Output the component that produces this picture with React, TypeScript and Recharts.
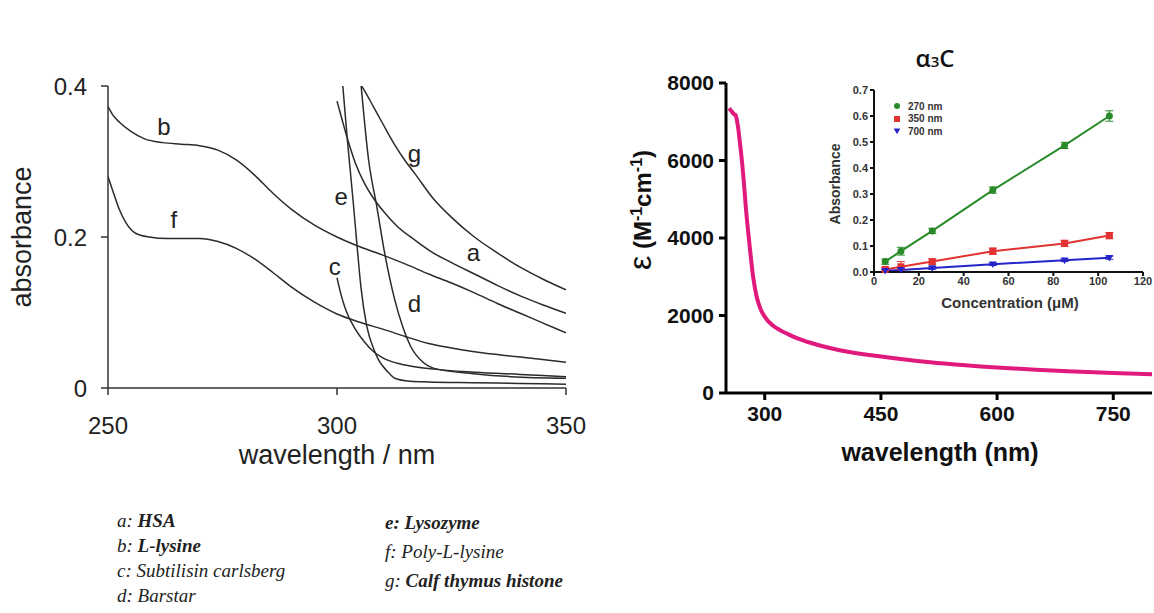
import { LineChart, Line, XAxis, YAxis, ReferenceDot, ErrorBar } from 'recharts'

// ---- left panel: absorbance spectra (nm, absorbance) ----
const hsa: [number, number][] = [
  [300, 0.38], [301, 0.358], [302, 0.336], [304, 0.298], [306, 0.271], [308, 0.251], [310, 0.235],
  [313, 0.215], [317, 0.196], [321, 0.179], [325, 0.166], [330, 0.151], [335, 0.136], [340, 0.122],
  [345, 0.11], [350, 0.099],
]
const lLysine: [number, number][] = [
  [250, 0.373], [251, 0.362], [252.5, 0.352], [255, 0.34], [258, 0.33], [262, 0.325], [266, 0.323],
  [270, 0.321], [274, 0.315], [278, 0.302], [282, 0.282], [286, 0.258], [290, 0.237], [295, 0.216],
  [300, 0.2], [305, 0.187], [310, 0.176], [315, 0.164], [320, 0.151], [325, 0.139], [330, 0.126],
  [335, 0.112], [340, 0.099], [345, 0.086], [350, 0.073],
]
const subtilisin: [number, number][] = [
  [300, 0.146], [301, 0.121], [302, 0.102], [304, 0.078], [306, 0.061], [308, 0.048], [310, 0.04],
  [313, 0.033], [317, 0.028], [321, 0.025], [330, 0.021], [340, 0.018], [350, 0.015],
]
const barstar: [number, number][] = [
  [305.2, 0.405], [306.9, 0.302], [308.7, 0.24], [310.4, 0.179], [312.6, 0.117], [314.3, 0.082],
  [316.1, 0.055], [318.6, 0.035], [321.2, 0.026], [329.8, 0.019], [338, 0.015], [350, 0.013],
]
const lysozyme: [number, number][] = [
  [301.2, 0.405], [302.2, 0.333], [303.5, 0.249], [304.4, 0.187], [305.2, 0.135], [306.5, 0.082],
  [308, 0.052], [309.1, 0.037], [311, 0.022], [312.6, 0.013], [316, 0.009], [320, 0.008],
  [330, 0.007], [340, 0.006], [350, 0.005],
]
const polyLysine: [number, number][] = [
  [250, 0.28], [251, 0.262], [252.5, 0.236], [254, 0.218], [256, 0.205], [259, 0.2], [263, 0.198],
  [270, 0.198], [274, 0.194], [278, 0.185], [282, 0.171], [286, 0.153], [290, 0.134], [295, 0.114],
  [300, 0.098], [305, 0.087], [310, 0.078], [315, 0.068], [320, 0.059], [325, 0.053], [330, 0.048],
  [340, 0.041], [350, 0.034],
]
const histone: [number, number][] = [
  [304.8, 0.405], [306, 0.394], [308, 0.372], [310, 0.35], [312.6, 0.322], [315, 0.3], [317, 0.284],
  [321, 0.251], [325, 0.226], [330, 0.2], [335, 0.179], [340, 0.16], [345, 0.144], [350, 0.13],
]

const spectra = [
  { id: 'a', points: hsa, label: [329.8, 0.179] },
  { id: 'b', points: lLysine, label: [262.2, 0.346] },
  { id: 'c', points: subtilisin, label: [299.5, 0.161] },
  { id: 'd', points: barstar, label: [316.9, 0.112] },
  { id: 'e', points: lysozyme, label: [300.9, 0.254] },
  { id: 'f', points: polyLysine, label: [264.4, 0.223] },
  { id: 'g', points: histone, label: [316.9, 0.311] },
]
const leftXTicks = [250, 300, 350]
const leftYTicks = [0, 0.2, 0.4]

// ---- right panel: molar absorptivity of a3C ----
const epsNm = [254, 256, 258, 260, 262, 264, 266, 268, 270, 273, 276, 280, 285, 290, 295, 300, 305, 310,
  320, 330, 340, 360, 380, 400, 450, 500, 550, 600, 650, 700, 750, 800]
const epsVal = [7350, 7300, 7250, 7200, 7180, 7050, 6800, 6450, 6100, 5450, 4700, 3900, 3000, 2450, 2150,
  1970, 1840, 1750, 1620, 1520, 1430, 1290, 1180, 1090, 940, 820, 730, 660, 600, 555, 515, 485]
const rightXTicks = [300, 450, 600, 750]
const rightYTicks = [0, 2000, 4000, 6000, 8000]

// ---- inset: absorbance vs concentration ----
const conc = [5, 12, 26, 53, 85, 105]
const abs270 = [0.04, 0.08, 0.158, 0.315, 0.487, 0.6]
const abs350 = [0.01, 0.02, 0.04, 0.08, 0.11, 0.14]
const abs700 = [0.005, 0.008, 0.015, 0.03, 0.045, 0.055]
const err270 = [0.01, 0.015, 0.01, 0.012, 0.012, 0.02]
const err350 = [0.008, 0.02, 0.01, 0.012, 0.012, 0.012]
const err700 = [0.004, 0.005, 0.005, 0.005, 0.005, 0.006]
const insetXTicks = [0, 20, 40, 60, 80, 100, 120]
const insetYTicks = [0, 0.1, 0.2, 0.3, 0.4, 0.5, 0.6, 0.7]

const insetData = conc.map((c, i) => ({
  c,
  a270: abs270[i], a350: abs350[i], a700: abs700[i],
  e270: err270[i], e350: err350[i], e700: err700[i],
}))
const epsData = epsNm.map((nm, i) => ({ nm, eps: epsVal[i] }))

const insetSeries = [
  { key: 'a270', err: 'e270', name: '270 nm', color: '#2a8a2a', shape: 'circle' },
  { key: 'a350', err: 'e350', name: '350 nm', color: '#e23232', shape: 'square' },
  { key: 'a700', err: 'e700', name: '700 nm', color: '#2424c8', shape: 'triangle' },
]

const sans = '"Liberation Sans", Arial, sans-serif'

function marker(shape: string, color: string, cx: number, cy: number, s: number, key?: any) {
  if (shape === 'circle') return <circle key={key} cx={cx} cy={cy} r={s} fill={color} />
  if (shape === 'square') return <rect key={key} x={cx - s} y={cy - s} width={s * 2} height={s * 2} fill={color} />
  return <path key={key} d={`M${cx - s * 1.1},${cy - s * 0.8} L${cx + s * 1.1},${cy - s * 0.8} L${cx},${cy + s * 1.1} Z`} fill={color} />
}

const abs = (x: number, y: number, extra: any = {}) => ({
  position: 'absolute' as const, left: x, top: y, transform: 'translate(-50%, -50%)', whiteSpace: 'nowrap' as const, ...extra,
})

export default function App() {
  return (
    <div style={{ position: 'absolute', left: 0, top: 0, width: 1154, height: 613, background: '#fff', overflow: 'hidden' }}>
      {/* left panel */}
      <div style={{ position: 'absolute', left: 0, top: 0 }}>
        <LineChart width={620} height={480} margin={{ top: 86, right: 54, bottom: 52, left: 48 }} style={{ fontFamily: sans }}>
          <XAxis
            type="number" dataKey="nm" domain={[250, 350]} ticks={leftXTicks} allowDataOverflow
            height={40} tickSize={7} tickMargin={22}
            stroke="#333" strokeWidth={1.5}
            tick={{ fontSize: 24, fill: '#222' }}
          />
          <YAxis
            type="number" domain={[0, 0.4]} ticks={leftYTicks} allowDataOverflow
            width={60} tickSize={7} tickMargin={14}
            stroke="#333" strokeWidth={1.5}
            tick={{ fontSize: 24, fill: '#222' }}
            tickFormatter={(v: number) => (v === 0 ? '0' : String(v))}
          />
          {spectra.map(s => (
            <Line
              key={s.id}
              data={s.points.map(([nm, v]) => ({ nm, v }))}
              dataKey="v" type="monotone" stroke="#2b2b2b" strokeWidth={1.5}
              dot={false} isAnimationActive={false}
            />
          ))}
          {spectra.map(s => (
            <ReferenceDot
              key={'lbl' + s.id} x={s.label[0]} y={s.label[1]} r={0} fill="none" stroke="none"
              label={{ value: s.id, position: 'center', fontSize: 24, fill: '#222' }}
            />
          ))}
        </LineChart>
        <div style={abs(22, 237, { transform: 'translate(-50%, -50%) rotate(-90deg)', fontFamily: sans, fontSize: 27, color: '#222' })}>absorbance</div>
        <div style={abs(337, 455, { fontFamily: sans, fontSize: 27, color: '#222' })}>wavelength / nm</div>
      </div>

      {/* right panel */}
      <div style={{ position: 'absolute', left: 600, top: 0 }}>
        <LineChart width={554} height={480} data={epsData} margin={{ top: 83, right: 2, bottom: 47, left: 66 }} style={{ fontFamily: sans }}>
          <XAxis
            type="number" dataKey="nm" domain={[250, 800]} ticks={rightXTicks} allowDataOverflow
            height={40} tickSize={7} tickMargin={6}
            stroke="#000" strokeWidth={3}
            tick={{ fontSize: 21, fontWeight: 700, fill: '#111' }}
          />
          <YAxis
            type="number" domain={[0, 8000]} ticks={rightYTicks}
            width={60} tickSize={7} tickMargin={5}
            stroke="#000" strokeWidth={3}
            tick={{ fontSize: 21, fontWeight: 700, fill: '#111' }}
          />
          <Line dataKey="eps" type="monotone" stroke="#e0197d" strokeWidth={4} dot={false} isAnimationActive={false} />
        </LineChart>
        <div style={abs(40, 210, { transform: 'translate(-50%, -50%) rotate(-90deg)', fontFamily: sans, fontSize: 24, fontWeight: 700, color: '#111' })}>
          <span style={{ fontSize: 32, fontWeight: 400 }}>ε</span> (M<sup style={{ fontSize: 16 }}>-1</sup>cm<sup style={{ fontSize: 16 }}>-1</sup>)
        </div>
        <div style={abs(340, 452, { fontFamily: sans, fontSize: 25, fontWeight: 700, color: '#111' })}>wavelength (nm)</div>
        <div style={abs(335, 57, { fontFamily: '"Open Sans", sans-serif', fontSize: 24, fontWeight: 600, color: '#111' })}>
          α<span style={{ fontSize: 15 }}>3</span>C
        </div>
      </div>

      {/* inset */}
      <div style={{ position: 'absolute', left: 820, top: 70 }}>
        <LineChart width={334} height={250} data={insetData} margin={{ top: 20, right: 11, bottom: 28, left: 24 }} style={{ fontFamily: sans }}>
          <XAxis
            type="number" dataKey="c" domain={[0, 120]} ticks={insetXTicks}
            height={20} tickSize={4} tickMargin={1}
            stroke="#111" strokeWidth={2}
            tick={{ fontSize: 11, fontWeight: 700, fill: '#333' }}
          />
          <YAxis
            type="number" domain={[0, 0.7]} ticks={insetYTicks}
            width={30} tickSize={4} tickMargin={2}
            stroke="#111" strokeWidth={2}
            tick={{ fontSize: 11, fontWeight: 700, fill: '#333' }}
            tickFormatter={(v: number) => v.toFixed(1)}
          />
          {insetSeries.map(s => (
            <Line
              key={s.key} dataKey={s.key} name={s.name} type="linear" stroke={s.color} strokeWidth={2}
              isAnimationActive={false}
              dot={(p: any) => marker(s.shape, s.color, p.cx, p.cy, 3.5, p.index)}
            >
              <ErrorBar dataKey={s.err} width={4} stroke={s.color} strokeWidth={1} direction="y" />
            </Line>
          ))}
        </LineChart>
        <div style={{ position: 'absolute', left: 72, top: 30, fontFamily: sans, fontSize: 10, fontWeight: 700, color: '#333' }}>
          {insetSeries.map(s => (
            <div key={s.key} style={{ display: 'flex', alignItems: 'center', height: 12.5 }}>
              <svg width={10} height={10}>{marker(s.shape, s.color, 5, 5, 3)}</svg>
              <span style={{ marginLeft: 6 }}>{s.name}</span>
            </div>
          ))}
        </div>
        <div style={abs(15, 114, { transform: 'translate(-50%, -50%) rotate(-90deg)', fontFamily: sans, fontSize: 14, fontWeight: 700, color: '#333' })}>Absorbance</div>
        <div style={abs(190, 232, { fontFamily: sans, fontSize: 15, fontWeight: 700, color: '#333' })}>Concentration (μM)</div>
      </div>

      {/* bottom key */}
      <div style={{ position: 'absolute', left: 117, top: 508, fontFamily: '"Liberation Serif", "Times New Roman", serif', fontStyle: 'italic', fontSize: 19, lineHeight: '25px', color: '#222' }}>
        <div>a: <b>HSA</b></div>
        <div>b: <b>L-lysine</b></div>
        <div>c: Subtilisin carlsberg</div>
        <div>d: Barstar</div>
      </div>
      <div style={{ position: 'absolute', left: 385, top: 508, fontFamily: '"Liberation Serif", "Times New Roman", serif', fontStyle: 'italic', fontSize: 19, lineHeight: '29px', color: '#222' }}>
        <div><b>e: Lysozyme</b></div>
        <div>f: Poly-L-lysine</div>
        <div>g: <b>Calf thymus histone</b></div>
      </div>
    </div>
  )
}
